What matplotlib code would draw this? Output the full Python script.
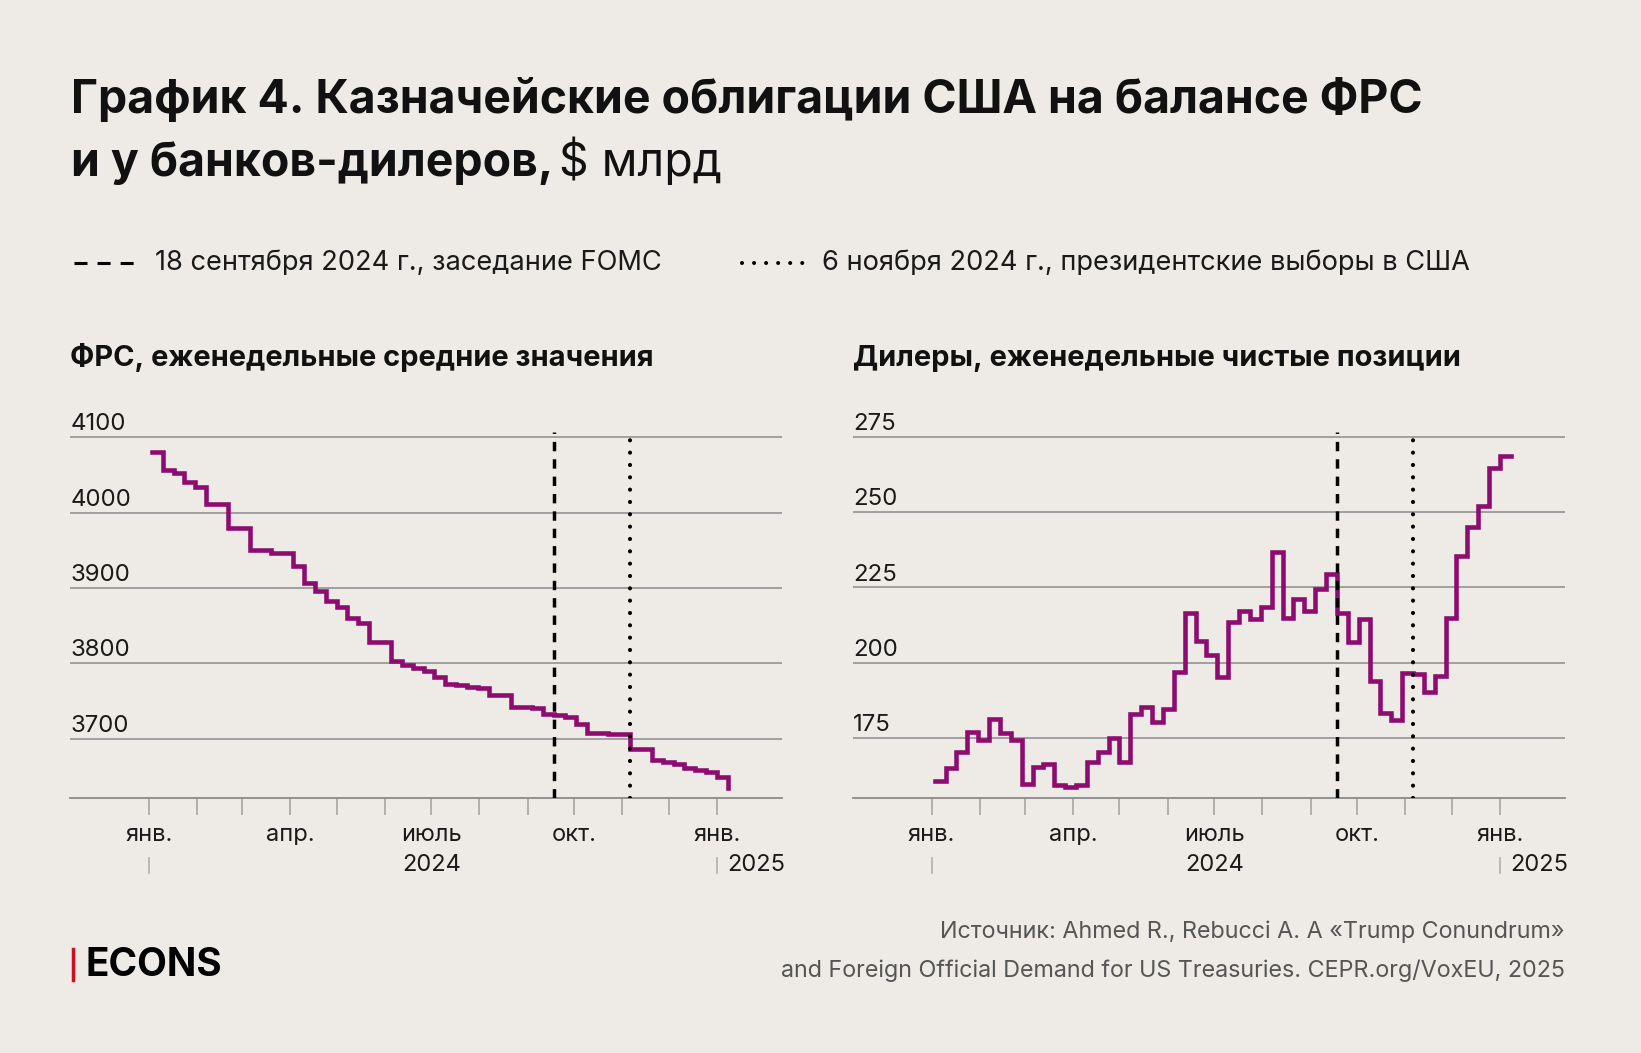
import numpy as np
import pandas as pd
import matplotlib
matplotlib.use("Agg")
import matplotlib.pyplot as plt
import matplotlib.dates as mdates
import matplotlib.transforms as mtransforms
from matplotlib.lines import Line2D

plt.rcParams['font.family'] = ['Inter', 'DejaVu Sans']

# weekly data, Wednesdays
weeks = pd.date_range('2024-01-03', periods=54, freq='7D')

fed = [4081, 4057, 4052, 4040, 4034, 4011, 4011, 3980, 3980, 3951,
       3951, 3946, 3946, 3929, 3906, 3896, 3882, 3875, 3860, 3853,
       3828, 3828, 3803, 3798, 3794, 3790, 3782, 3773, 3771, 3769,
       3767, 3758, 3758, 3742, 3742, 3740, 3732, 3731, 3729, 3720,
       3708, 3708, 3706, 3706, 3686, 3686, 3672, 3669, 3666, 3661,
       3658, 3655, 3649, 3635]

dealers = [160.9, 165.1, 170.3, 177.1, 174.5, 181.4, 176.7, 174.5, 159.8, 165.4,
           166.6, 159.5, 158.9, 159.5, 167.0, 170.6, 175.2, 167.3, 183.2, 185.5,
           180.4, 184.8, 197.0, 216.4, 207.3, 202.5, 195.3, 213.7, 217.2, 214.6,
           218.5, 236.9, 215.0, 221.2, 217.3, 224.5, 229.5, 216.4, 207.0, 214.6,
           194.0, 183.5, 181.1, 196.8, 196.2, 190.3, 195.7, 215.0, 235.6, 245.1,
           252.0, 264.5, 268.6, 268.6]

fed_ticks = [3700, 3800, 3900, 4000, 4100]
dealer_ticks = [175, 200, 225, 250, 275]

months = pd.date_range('2024-01-01', '2025-01-01', freq='MS')
month_labels = ['янв.', '', '', 'апр.', '', '', 'июль', '', '', 'окт.', '', '', 'янв.']

fomc_date = pd.Timestamp('2024-09-18')
election_date = pd.Timestamp('2024-11-06')

bg = '#EEEBE6'
purple = '#8E0C6F'
grid_c = '#9a9a9a'

W, H = 1641, 1053
fig = plt.figure(figsize=(W / 100, H / 100), dpi=100, facecolor=bg)

def fx(px):
    return px / W

def fy(py):
    return 1 - py / H

x0 = pd.Timestamp('2024-01-01') - pd.Timedelta(days=50.4)
x1 = pd.Timestamp('2024-01-01') + pd.Timedelta(days=407.8)

ax_bottom = 798.3
ax_top = 432.3
ax_w = 782 - 70.4

panels = [
    (70.4, fed, fed_ticks, (3620.7, 4106.6), 'ФРС, еженедельные средние значения'),
    (853.3, dealers, dealer_ticks, (155.1, 276.45), 'Дилеры, еженедельные чистые позиции'),
]

for left, values, yt, ylim, subtitle in panels:
    ax = fig.add_axes([fx(left), fy(ax_bottom), fx(ax_w), (ax_bottom - ax_top) / H])
    ax.set_facecolor(bg)
    ax.set_xlim(x0, x1)
    ax.set_ylim(*ylim)

    # grid lines + labels above them
    for v in yt:
        ax.axhline(v, color=grid_c, lw=1.3, zorder=1)
        ax.annotate(str(v), xy=(0, v), xycoords=('axes fraction', 'data'),
                    xytext=(0, 5), textcoords='offset points',
                    ha='left', va='baseline', fontsize=17.3, color='#1a1a1a')

    ax.step(weeks, values, where='post', color=purple, lw=3.3, zorder=3,
            solid_joinstyle='miter')

    ax.axvline(fomc_date, color='black', lw=2.5, linestyle=(0, (2.7, 2.3)), zorder=4)
    ax.axvline(election_date, color='black', lw=3.0, linestyle=(0, (0.01, 2.95)),
               dash_capstyle='round', zorder=4)

    for s in ['top', 'right', 'left']:
        ax.spines[s].set_visible(False)
    ax.spines['bottom'].set_color('#8a8a8a')
    ax.spines['bottom'].set_linewidth(1.3)
    ax.set_yticks([])
    ax.set_xticks(months)
    ax.set_xticklabels(month_labels)
    ax.tick_params(axis='x', length=12, width=1.1, color='#a0a0a0', pad=6.5,
                   labelsize=17, labelcolor='#1a1a1a')

    # year row
    sep_tr = mtransforms.blended_transform_factory(ax.transData, ax.transAxes)
    for d in [months[0], months[-1]]:
        ax.plot([d, d], [-60 / 366, -75 / 366], color='#b0b0b0', lw=1.2,
                transform=sep_tr, clip_on=False)
    ax.annotate('2024', xy=(months[6], 0), xycoords=('data', 'axes fraction'),
                xytext=(0, -67 * 0.72), textcoords='offset points',
                ha='center', va='center', fontsize=17, color='#1a1a1a')
    ax.annotate('2025', xy=(months[-1], 0), xycoords=('data', 'axes fraction'),
                xytext=(7.5, -67 * 0.72), textcoords='offset points',
                ha='left', va='center', fontsize=17, color='#1a1a1a')

    fig.text(fx(left), fy(366), subtitle, fontsize=20.9, fontweight='bold',
             ha='left', va='baseline', color='#111111')

# title
fig.text(fx(71), fy(113), 'График 4. Казначейские облигации США на балансе ФРС',
         fontsize=33.4, fontweight='bold', ha='left', va='baseline', color='#111111')
t2 = fig.text(fx(71), fy(176), 'и у банков-дилеров,', fontsize=33.4, fontweight='bold',
              ha='left', va='baseline', color='#111111')
r = fig.canvas.get_renderer()
bb = t2.get_window_extent(renderer=r)
fig.text(bb.x1 / W + fx(6), fy(176), '$ млрд', fontsize=33.4,
         ha='left', va='baseline', color='#111111')

# legend
fig.add_artist(Line2D([fx(74), fx(136)], [fy(263), fy(263)], color='black', lw=2.2,
                      linestyle=(0, (4.25, 3.3))))
fig.text(fx(155), fy(263), '18 сентября 2024 г., заседание FOMC', fontsize=19.6,
         ha='left', va='center', color='#1a1a1a')
fig.add_artist(Line2D([fx(741.7), fx(803)], [fy(263), fy(263)], color='black', lw=2.9,
                      linestyle=(0, (0.01, 2.98)), dash_capstyle='round'))
fig.text(fx(822), fy(263), '6 ноября 2024 г., президентские выборы в США', fontsize=19.6,
         ha='left', va='center', color='#1a1a1a')

# footer
fig.text(fx(1565), fy(938), 'Источник: Ahmed R., Rebucci A. A «Trump Conundrum»',
         fontsize=16.8, ha='right', va='baseline', color='#555555')
fig.text(fx(1565), fy(977), 'and Foreign Official Demand for US Treasuries. CEPR.org/VoxEU, 2025',
         fontsize=16.8, ha='right', va='baseline', color='#555555')

fig.add_artist(Line2D([fx(72.5), fx(72.5)], [fy(949), fy(980)], color='#D0101B', lw=2.5))
fig.text(fx(86), fy(965), 'ECONS', fontsize=27.9, fontweight='bold',
         ha='left', va='center', color='black')

fig.savefig('out.png', dpi=100, facecolor=bg)
